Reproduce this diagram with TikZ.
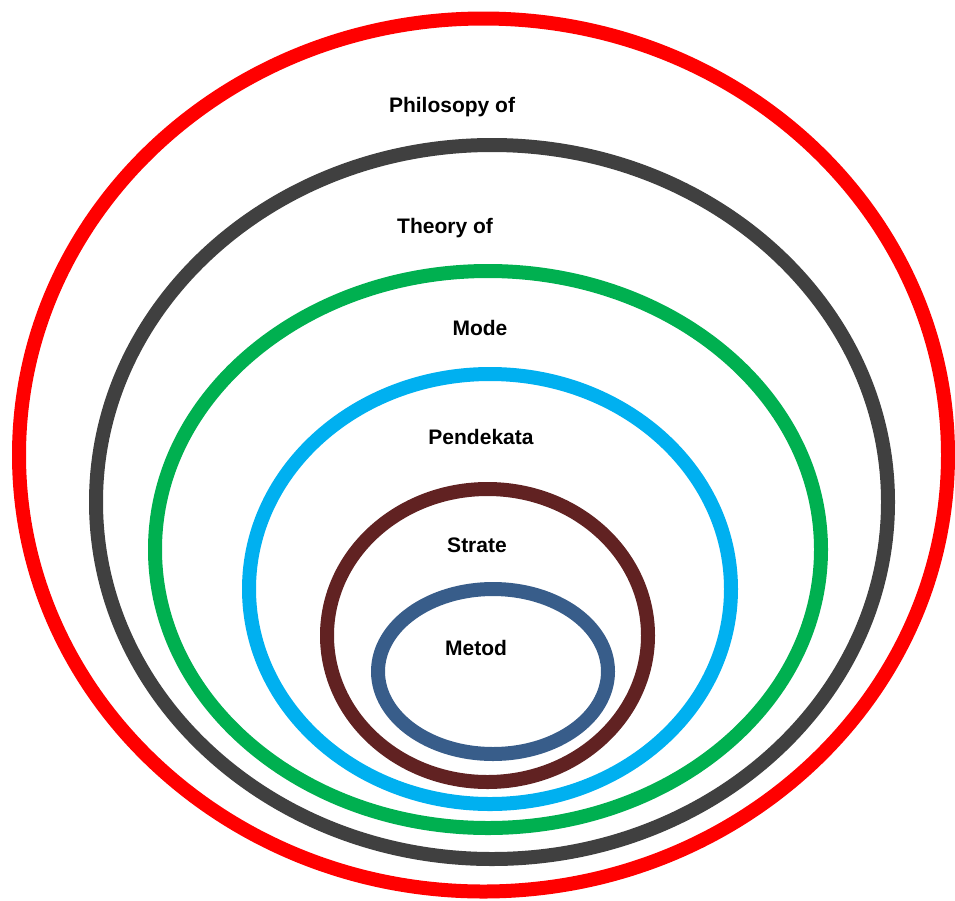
\documentclass[tikz,border=0pt]{standalone}
\usepackage{fontspec}
\setmainfont{Liberation Sans}
\usetikzlibrary{shapes.geometric}

\definecolor{ringgray}{HTML}{404040}
\definecolor{ringgreen}{HTML}{00B050}
\definecolor{ringcyan}{HTML}{00B0F0}
\definecolor{ringbrown}{HTML}{612222}
\definecolor{ringsteel}{HTML}{385D8A}

\begin{document}
\begin{tikzpicture}[x=1pt, y=-1pt]

  \tikzstyle{ring}=[draw, ellipse, line width=14pt, inner sep=0pt, outer sep=0pt]
  \tikzstyle{lbl}=[anchor=base, inner sep=0pt, font=\fontsize{21}{25}\selectfont\bfseries]

  \useasboundingbox (0,0) rectangle (955,900);

  % rings, outside in
  \node[ring, draw=red, minimum width=929pt, minimum height=873pt] (philo) at (483.5,455) {};
  \node[ring, draw=ringgray, minimum width=792pt, minimum height=714pt] (theory) at (492,502) {};
  \node[ring, draw=ringgreen, minimum width=666pt, minimum height=557pt] (model) at (488,549.5) {};
  \node[ring, draw=ringcyan, minimum width=482pt, minimum height=430pt] (approach) at (490,589) {};
  \node[ring, draw=ringbrown, minimum width=321pt, minimum height=293pt] (strat) at (487.5,635.5) {};
  \node[ring, draw=ringsteel, minimum width=230pt, minimum height=165pt] (method) at (493,671.5) {};

  % labels
  \node[lbl] (philo-t) at (452,112) {Philosopy of};
  \node[lbl] (theory-t) at (445,233) {Theory of};
  \node[lbl] (model-t) at (480,335) {Mode};
  \node[lbl] (approach-t) at (481,444) {Pendekata};
  \node[lbl] (strat-t) at (477,552) {Strate};
  \node[lbl] (method-t) at (476,655) {Metod};

\end{tikzpicture}
\end{document}
